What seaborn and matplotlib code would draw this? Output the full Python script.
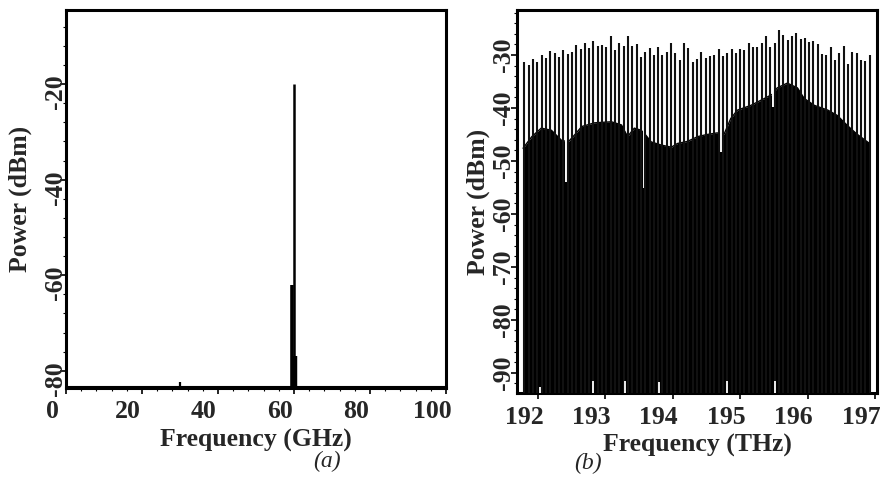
import numpy as np
import pandas as pd
import seaborn as sns
import matplotlib.pyplot as plt
from matplotlib.ticker import MultipleLocator, AutoMinorLocator
from matplotlib.transforms import ScaledTranslation

# ---- panel (a): RF spectrum ----
base_freq_a = [0.0, 100.0]
base_power_a = [-83.4, -83.4]
spike_freq_a = [30.0, 59.5, 60.0, 60.2]
spike_top_a = [-82.4, -62.0, -20.0, -77.0]

# ---- panel (b): optical comb spectrum ----
comb_freq = [
    191.800, 191.864, 191.928, 191.992, 192.056, 192.120, 192.184, 192.248, 192.312, 192.376,
    192.440, 192.504, 192.568, 192.632, 192.696, 192.760, 192.824, 192.888, 192.952, 193.016,
    193.080, 193.144, 193.208, 193.272, 193.336, 193.400, 193.464, 193.528, 193.592, 193.656,
    193.720, 193.784, 193.848, 193.912, 193.976, 194.040, 194.104, 194.168, 194.232, 194.296,
    194.360, 194.424, 194.488, 194.552, 194.616, 194.680, 194.744, 194.808, 194.872, 194.936,
    195.000, 195.064, 195.128, 195.192, 195.256, 195.320, 195.384, 195.448, 195.512, 195.576,
    195.640, 195.704, 195.768, 195.832, 195.896, 195.960, 196.024, 196.088, 196.152, 196.216,
    196.280, 196.344, 196.408, 196.472, 196.536, 196.600, 196.664, 196.728, 196.792, 196.856,
    196.920]
comb_peak = [
    -31.3, -31.9, -30.8, -31.3, -30.0, -30.5, -29.2, -29.7, -30.4, -29.1,
    -29.9, -29.4, -28.1, -28.9, -27.8, -28.7, -27.4, -28.3, -28.1, -28.4,
    -26.5, -29.1, -27.7, -28.3, -26.5, -28.3, -27.9, -30.3, -29.4, -28.7,
    -30.0, -28.4, -30.0, -29.4, -27.7, -29.7, -31.0, -27.8, -28.7, -31.3,
    -30.8, -29.4, -30.5, -30.2, -30.0, -28.9, -30.2, -29.7, -28.9, -29.6,
    -28.9, -29.1, -27.8, -28.5, -28.5, -27.8, -26.4, -28.5, -27.7, -25.3,
    -26.2, -27.2, -26.5, -25.9, -27.0, -26.8, -27.5, -27.3, -27.9, -29.8,
    -30.0, -28.5, -31.0, -29.7, -28.3, -31.6, -29.4, -29.7, -31.0, -31.1,
    -30.0]

floor_freq = [191.78, 191.91, 192.05, 192.20, 192.35, 192.45, 192.55, 192.65, 192.84, 193.09,
              193.24, 193.33, 193.43, 193.53, 193.58, 193.68, 193.83, 193.98, 194.07, 194.22,
              194.37, 194.51, 194.66, 194.76, 194.86, 194.96, 195.16, 195.36, 195.48, 195.55,
              195.70, 195.85, 195.95, 196.10, 196.30, 196.44, 196.59, 196.73, 196.92]
floor_level = [-47.6, -45.4, -43.8, -44.2, -46.1, -46.4, -45.0, -43.5, -42.8, -42.6,
               -43.2, -45.4, -43.8, -44.2, -44.8, -46.4, -47.0, -47.4, -46.7, -46.3,
               -45.4, -45.0, -44.7, -45.0, -42.0, -40.4, -39.5, -38.2, -37.4, -36.2,
               -35.3, -36.2, -38.2, -39.5, -40.4, -41.4, -43.3, -44.9, -46.7]

dip_freq = [192.42, 193.57, 194.72, 195.48]
dip_bottom = [-54.0, -55.1, -48.3, -39.8]

notch_freq = [192.03, 192.81, 193.29, 193.79, 194.81, 195.52]
notch_top = [-92.6, -91.6, -91.6, -91.8, -91.6, -91.5]

sns.set_theme(style="ticks")
plt.rcParams['font.family'] = ['Liberation Serif', 'DejaVu Serif']
plt.rcParams['font.weight'] = 'bold'
plt.rcParams['axes.labelweight'] = 'bold'
plt.rcParams['axes.unicode_minus'] = False

fig = plt.figure(figsize=(8.9, 4.82), dpi=100)
ax_a = fig.add_axes([66 / 890, 94 / 482, 380 / 890, 378 / 482])
ax_b = fig.add_axes([517 / 890, 89 / 482, 360 / 890, 383 / 482])

FS = 18.5

# panel (a)
df_a = pd.DataFrame({"Frequency": base_freq_a, "Power": base_power_a})
sns.lineplot(data=df_a, x="Frequency", y="Power", ax=ax_a, color="black", lw=1.5)
for f, top, w in zip(spike_freq_a, spike_top_a, [1.6, 2.6, 1.8, 3.2]):
    ax_a.vlines(f, -84.0, top, color="black", lw=w)
ax_a.set_xlim(0, 100)
ax_a.set_ylim(-83.6, -4.5)
ax_a.xaxis.set_major_locator(MultipleLocator(20))
ax_a.xaxis.set_minor_locator(MultipleLocator(4))
ax_a.yaxis.set_minor_locator(AutoMinorLocator(5))
ax_a.set_yticks([-80, -60, -40, -20])

# panel (b)
ax_b.fill_between(floor_freq, -95, floor_level, color="black", lw=0, zorder=2)
df_floor = pd.DataFrame({"Frequency": floor_freq, "Power": floor_level})
sns.lineplot(data=df_floor, x="Frequency", y="Power", ax=ax_b, color="black", lw=1.0, zorder=2)
ax_b.vlines(dip_freq, dip_bottom, -33, color="white", lw=1.4, zorder=2.5)
ax_b.vlines(comb_freq, -95, comb_peak, color="#111111", lw=1.5, zorder=3)
ax_b.vlines(notch_freq, -95, notch_top, color="white", lw=1.3, zorder=4)
ax_b.set_xlim(191.69, 197.03)
ax_b.set_ylim(-93.8, -21.5)
ax_b.xaxis.set_major_locator(MultipleLocator(1))
ax_b.yaxis.set_minor_locator(AutoMinorLocator(5))
ax_b.set_yticks([-90, -80, -70, -60, -50, -40, -30])

for ax, xl, ydrop, yshift, ylpad in [(ax_a, "Frequency (GHz)", 8, 7, 9),
                                     (ax_b, "Frequency (THz)", 0, 4, 2)]:
    ax.set_xlabel(xl, fontsize=FS, fontweight="bold", labelpad=4)
    ax.set_ylabel("Power (dBm)", fontsize=FS, fontweight="bold", labelpad=ylpad)
    for s in ax.spines.values():
        s.set_linewidth(2.2)
        s.set_color("black")
    ax.tick_params(axis="both", which="major", direction="out", length=4, width=1.2,
                   labelsize=FS, color="black")
    ax.tick_params(axis="both", which="minor", direction="out", length=2, width=0.8, color="black")
    ax.tick_params(axis="x", which="major", pad=5)
    ax.tick_params(axis="y", which="major", labelrotation=90, pad=0)
    xoff = ScaledTranslation(-14 / 100, 0, fig.dpi_scale_trans)
    yoff = ScaledTranslation(yshift / 100, -ydrop / 100, fig.dpi_scale_trans)
    for lab in ax.get_xticklabels():
        lab.set_fontweight("bold")
        lab.set_transform(lab.get_transform() + xoff)
    for lab in ax.get_yticklabels():
        lab.set_fontweight("bold")
        lab.set_va("center")
        lab.set_transform(lab.get_transform() + yoff)
    ax.set_facecolor("white")

fig.text(327 / 890, 1 - 461 / 482, "(a)", fontsize=17, style="italic", fontweight="normal",
         ha="center", va="center")
fig.text(588 / 890, 1 - 463 / 482, "(b)", fontsize=17, style="italic", fontweight="normal",
         ha="center", va="center")

fig.savefig("out.png", dpi=100, facecolor="white")
